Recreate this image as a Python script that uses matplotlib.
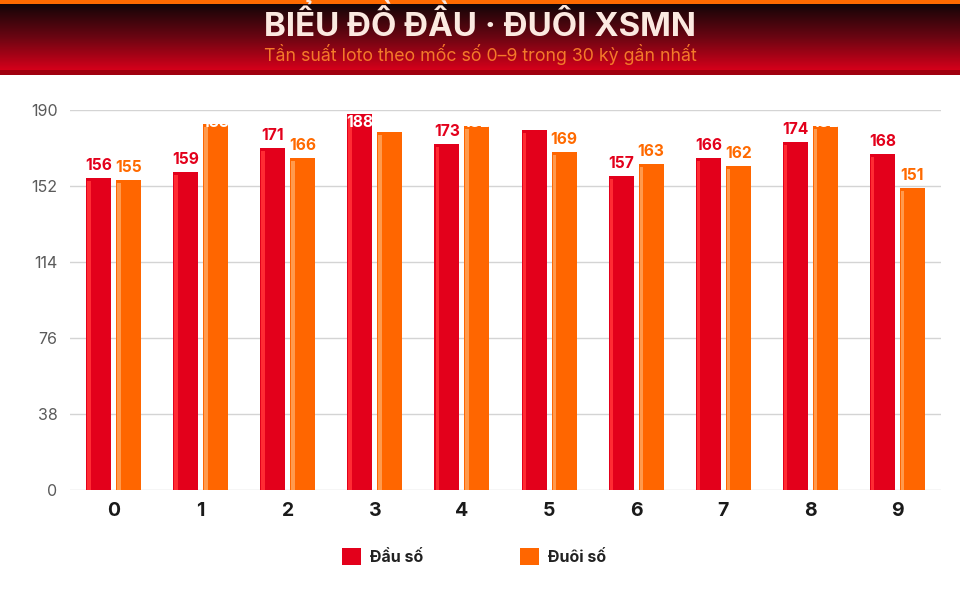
import matplotlib
matplotlib.use("Agg")
import matplotlib.pyplot as plt
import numpy as np
from matplotlib.colors import LinearSegmentedColormap
from matplotlib.patches import Rectangle

# data
digits = ['0', '1', '2', '3', '4', '5', '6', '7', '8', '9']
dau_so = [156, 159, 171, 188, 173, 180, 157, 166, 174, 168]
duoi_so = [155, 183, 166, 179, 182, 169, 163, 162, 182, 151]
y_ticks = [0, 38, 76, 114, 152, 190]

title = 'BIỂU ĐỒ ĐẦU · ĐUÔI XSMN'
subtitle = 'Tần suất loto theo mốc số 0–9 trong 30 kỳ gần nhất'

RED = '#e3001b'
RED_HI = '#ff2b33'
ORANGE = '#ff6600'
ORANGE_HI = '#ff9a4d'

plt.rcParams['font.family'] = ['Inter', 'DejaVu Sans']

W, H = 960, 600
fig = plt.figure(figsize=(W / 100, H / 100), dpi=100)

# header band
hdr = fig.add_axes([0, 1 - 75 / H, 1, 75 / H])
hdr.set_xlim(0, W)
hdr.set_ylim(75, 0)
hdr.axis('off')
grad = LinearSegmentedColormap.from_list('hdr', ['#140507', '#6a0612', '#d4001a'])
hdr.imshow(np.linspace(0, 1, 100).reshape(-1, 1), cmap=grad, aspect='auto',
           extent=[0, W, 70, 4], interpolation='bilinear')
hdr.add_patch(Rectangle((0, 0), W, 4, color='#ff6a00', lw=0))
hdr.add_patch(Rectangle((0, 70), W, 5, color='#a0000f', lw=0))
hdr.text(W / 2, 36, title, ha='center', va='baseline', fontsize=23.8, fontweight='bold',
         color='#fbe9e0')
hdr.text(W / 2, 61, subtitle, ha='center', va='baseline', fontsize=12.8,
         color='#f47a2a')

# main chart
ax = fig.add_axes([70 / W, 1 - 490 / H, 871 / W, 380 / H])
x = np.arange(len(digits))
bw = 0.287
off = 0.172

def draw(vals, xpos, color, hi, lcolor):
    bars = ax.bar(xpos, vals, width=bw, color=color, zorder=3, lw=0)
    for b, v in zip(bars, vals):
        bx = b.get_x()
        ax.add_patch(Rectangle((bx + 0.012, 0), 0.04, v - 1.5, color=hi, lw=0, zorder=4))
        if v + 9 > 187:
            t = ax.text(bx + bw / 2, 187.5, str(v), ha='center', va='top', fontsize=11.2,
                        fontweight='bold', color='white', zorder=5)
            t.set_clip_path(b)
        else:
            ax.text(bx + bw / 2, v + 2.5, str(v), ha='center', va='bottom', fontsize=11.2,
                    fontweight='bold', color=lcolor, zorder=5)
    return bars

b1 = draw(dau_so, x - off, RED, RED_HI, RED)
b2 = draw(duoi_so, x + off, ORANGE, ORANGE_HI, '#ff6a00')

ax.set_xlim(-0.5, 9.5)
ax.set_ylim(0, 190)
ax.set_yticks(y_ticks)
ax.set_xticks(x)
ax.set_xticklabels(digits, fontsize=14, fontweight='bold', color='#1a1a1a')
ax.tick_params(axis='y', length=0, labelsize=11.5, labelcolor='#5a5a5a', pad=9)
ax.tick_params(axis='x', length=0, pad=9)
ax.grid(axis='y', color='#d4d4d4', lw=1, zorder=0)
for s in ax.spines.values():
    s.set_visible(False)
ax.set_axisbelow(True)

# legend
leg = fig.add_axes([0, 0, 1, 1], facecolor='none')
leg.set_xlim(0, W)
leg.set_ylim(H, 0)
leg.axis('off')
leg.add_patch(Rectangle((342, 548), 19, 17, color=RED, lw=0))
leg.text(370, 557, 'Đầu số', ha='left', va='center', fontsize=11.5, fontweight='bold', color='#222222')
leg.add_patch(Rectangle((520, 548), 19, 17, color=ORANGE, lw=0))
leg.text(548, 557, 'Đuôi số', ha='left', va='center', fontsize=11.5, fontweight='bold', color='#222222')

fig.savefig('out.png', dpi=100)
